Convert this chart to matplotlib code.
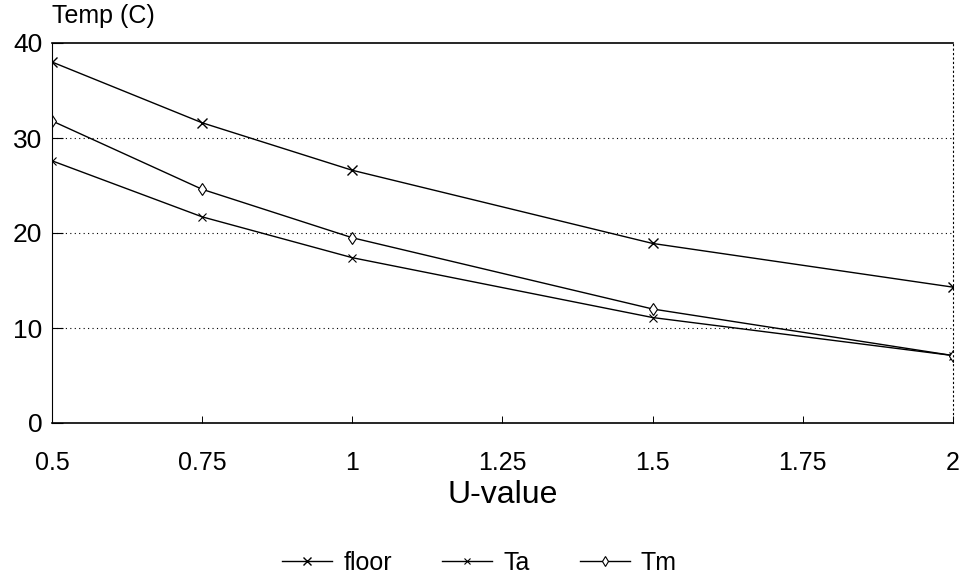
import numpy as np
import matplotlib
matplotlib.use('Agg')
import matplotlib.pyplot as plt

plt.rcParams['font.family'] = ['Liberation Sans', 'DejaVu Sans']

u_values = [0.5, 0.75, 1, 1.5, 2]
floor = [38.0, 31.6, 26.6, 18.9, 14.3]
ta = [27.6, 21.7, 17.4, 11.1, 7.1]
tm = [31.8, 24.6, 19.5, 12.0, 7.1]
xticks = [0.5, 0.75, 1, 1.25, 1.5, 1.75, 2]
xtick_labels = ['0.5', '0.75', '1', '1.25', '1.5', '1.75', '2']
yticks = [0, 10, 20, 30, 40]

fig = plt.figure(figsize=(9.59, 5.87), dpi=100)
ax = fig.add_axes([52 / 959, 1 - 423 / 587, (953 - 52) / 959, (423 - 43) / 587])

ax.plot(u_values, floor, color='black', lw=1.0, marker='x', ms=7, mew=1.0, label='floor')
ax.plot(u_values, ta, color='black', lw=1.0, marker='x', ms=6, mew=0.8, label='Ta')
ax.plot(u_values, tm, color='black', lw=1.0, marker='d', ms=6, mfc='white', mew=0.8, label='Tm')

ax.set_xlim(0.5, 2)
ax.set_ylim(0, 40)
ax.set_xticks(xticks)
ax.set_xticklabels(xtick_labels, fontsize=18)
ax.set_yticks(yticks)
ax.set_yticklabels([str(v) for v in yticks], fontsize=19)
ax.tick_params(axis='x', direction='in', length=5, width=0.7, pad=20)
ax.tick_params(axis='y', direction='in', length=8, width=0.8, pad=7)

for y in [10, 20, 30]:
    ax.axhline(y, color='black', lw=0.8, ls=(0, (1, 3)))

ax.spines['top'].set_linewidth(1.2)
ax.spines['bottom'].set_linewidth(1.2)
ax.spines['left'].set_linewidth(0.8)
ax.spines['right'].set_linestyle((0, (1, 3)))
ax.spines['right'].set_linewidth(0.8)

ax.text(0.0, 1.04, 'Temp (C)', transform=ax.transAxes, fontsize=18, ha='left', va='bottom')
ax.set_xlabel('U-value', fontsize=23, labelpad=4)

fig.legend(loc='center', bbox_to_anchor=(0.5, 1 - 563 / 587), ncol=3, frameon=False,
           fontsize=18, handlelength=2.0, handletextpad=0.45, columnspacing=2.0,
           markerscale=0.8)

fig.savefig('out.png', dpi=100)
